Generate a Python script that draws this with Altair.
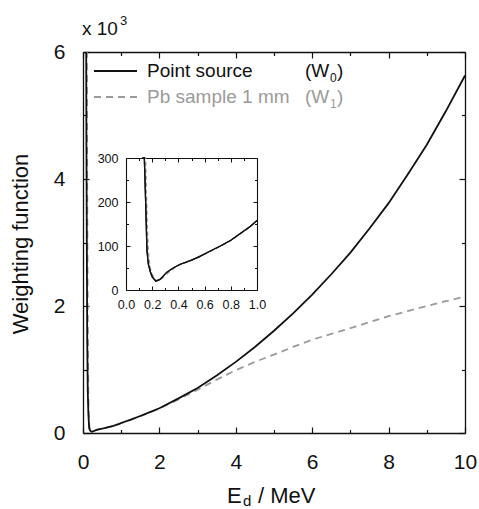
import altair as alt
import pandas as pd

F = "Liberation Sans"

energy = [0.06, 0.09, 0.11, 0.125, 0.14, 0.15, 0.16, 0.17, 0.185, 0.2, 0.228, 0.26,
          0.31, 0.36, 0.41, 0.5, 0.56, 0.64, 0.72, 0.8, 0.87, 0.95, 1.0, 1.25, 1.5,
          1.75, 2.0, 2.5, 3.0, 3.5, 4.0, 4.5, 5.0, 5.5, 6.0, 6.5, 7.0, 7.5, 8.0, 8.5,
          9.0, 9.5, 10.0]
w0_point = [12000, 4500, 1500, 650, 320, 200, 90, 60, 42, 30, 20, 24,
            40, 50, 58, 68, 76, 88, 100, 113, 128, 145, 158, 210, 268,
            328, 390, 545, 710, 905, 1120, 1355, 1610, 1885, 2180, 2500, 2840, 3220, 3620, 4070,
            4540, 5070, 5630]
w1_pb = [20000, 9000, 4000, 1800, 600, 330, 170, 90, 50, 35, 22, 22,
         36, 48, 57, 67, 75, 87, 99, 112, 127, 144, 157, 208, 265,
         323, 385, 530, 680, 840, 990, 1120, 1235, 1355, 1470, 1560, 1650, 1745, 1840, 1920,
         2000, 2075, 2150]

main_x_ticks = list(range(0, 11))
main_x_labels = [0, 2, 4, 6, 8, 10]
main_y_ticks = [0, 1000, 2000, 3000, 4000, 5000, 6000]
main_y_labels = [0, 2000, 4000, 6000]
inset_x_ticks = [0.0, 0.1, 0.2, 0.3, 0.4, 0.5, 0.6, 0.7, 0.8, 0.9, 1.0]
inset_x_labels = [0.0, 0.2, 0.4, 0.6, 0.8, 1.0]
inset_y_ticks = [0, 50, 100, 150, 200, 250, 300]
inset_y_labels = [0, 100, 200, 300]

df = pd.DataFrame({"E": energy, "W0": w0_point, "W1": w1_pb})

W, H = 382, 381
# inset placement inside the plot area (pixels)
IX0, IX1, IY0, IY1 = 43, 174, 238, 106

BLACK = "#111111"
GRAY = "#9a9a9a"


def main_scales():
    return (alt.Scale(domain=[0, 10], nice=False, zero=False),
            alt.Scale(domain=[0, 6000], nice=False, zero=False))


def inset_scales():
    return (alt.Scale(domain=[0, 1], range=[IX0, IX1], nice=False, zero=False, clamp=True),
            alt.Scale(domain=[0, 300], range=[IY0, IY1], nice=False, zero=False, clamp=True))


main_tick_x = {"condition": {"test": "datum.value % 2 === 0", "value": 6}, "value": 3.5}
main_tick_y = {"condition": {"test": "datum.value % 2000 === 0", "value": 6}, "value": 3.5}
ins_tick_x = {"condition": {"test": "abs(datum.value*5 - round(datum.value*5)) < 0.01", "value": 4}, "value": 2.5}
ins_tick_y = {"condition": {"test": "datum.value % 100 === 0", "value": 4}, "value": 2.5}

common = dict(grid=False, title=None, labelFont=F, domainColor=BLACK, tickColor=BLACK,
              labelColor=BLACK, labelOverlap=False, labelFlush=False)

base = alt.Chart(df)

# ---------- main chart ----------
xs, ys = main_scales()
main_black = base.mark_line(color=BLACK, strokeWidth=1.8, clip=True).encode(
    x=alt.X("E:Q", scale=xs, axis=alt.Axis(orient="bottom", values=main_x_labels, ticks=False, tickSize=0,
                                           labelFontSize=21, labelPadding=18, domainWidth=1.3, **common)),
    y=alt.Y("W0:Q", scale=ys, axis=alt.Axis(orient="left", values=main_y_labels, ticks=False, tickSize=0,
                                            labelFontSize=21, labelPadding=18, domainWidth=1.3,
                                            labelExpr="datum.value / 1000", **common)),
    order="E:Q",
)
xs, ys = main_scales()
main_gray = base.mark_line(color=GRAY, strokeWidth=1.8, strokeDash=[7, 5], clip=True).encode(
    x=alt.X("E:Q", scale=xs, axis=alt.Axis(orient="top", offset=-H, values=main_x_ticks, labels=False,
                                           domain=False, tickSize=main_tick_x, tickWidth=1.2, **common)),
    y=alt.Y("W1:Q", scale=ys, axis=alt.Axis(orient="right", offset=-W, values=main_y_ticks, labels=False,
                                            domain=False, tickSize=main_tick_y, tickWidth=1.2, **common)),
    order="E:Q",
)
xs, ys = main_scales()
main_frame = base.mark_line(strokeOpacity=0, clip=True).encode(
    x=alt.X("E:Q", scale=xs, axis=alt.Axis(orient="bottom", offset=-H, values=main_x_ticks, labels=False,
                                           domainWidth=1.3, tickSize=main_tick_x, tickWidth=1.2, **common)),
    y=alt.Y("W0:Q", scale=ys, axis=alt.Axis(orient="left", offset=-W, values=main_y_ticks, labels=False,
                                            domainWidth=1.3, tickSize=main_tick_y, tickWidth=1.2, **common)),
)

# ---------- inset ----------
inset_base = base.transform_filter("datum.E >= 0.12 && datum.E <= 1.0")
xs, ys = inset_scales()
ins_black = inset_base.mark_line(color=BLACK, strokeWidth=1.3).encode(
    x=alt.X("E:Q", scale=xs, axis=alt.Axis(orient="bottom", offset=-(H - IY0), values=inset_x_labels,
                                           ticks=False, tickSize=0, labelFontSize=12.5, labelPadding=8,
                                           format=".1f", domainWidth=1.1, **common)),
    y=alt.Y("W0:Q", scale=ys, axis=alt.Axis(orient="left", offset=-IX0, values=inset_y_labels,
                                            ticks=False, tickSize=0, labelFontSize=12.5, labelPadding=8,
                                            domainWidth=1.1, **common)),
    order="E:Q",
)
xs, ys = inset_scales()
ins_gray = inset_base.mark_line(color=GRAY, strokeWidth=1.3, strokeDash=[4, 3]).encode(
    x=alt.X("E:Q", scale=xs, axis=alt.Axis(orient="top", offset=-IY0, values=inset_x_ticks, labels=False,
                                           domain=False, tickSize=ins_tick_x, **common)),
    y=alt.Y("W1:Q", scale=ys, axis=alt.Axis(orient="right", offset=-(W - IX0), values=inset_y_ticks,
                                            labels=False, domain=False, tickSize=ins_tick_y, **common)),
    order="E:Q",
)
ins_black_top = inset_base.mark_line(color=BLACK, strokeWidth=1.3).encode(
    x=alt.X("E:Q", scale=inset_scales()[0], axis=alt.Axis(orient="bottom", offset=-(H - IY1),
                                                          values=inset_x_ticks, labels=False, domainWidth=1.1,
                                                          tickSize=ins_tick_x, **common)),
    y=alt.Y("W0:Q", scale=inset_scales()[1], axis=alt.Axis(orient="left", offset=-IX1, values=inset_y_ticks,
                                                           labels=False, domainWidth=1.1, tickSize=ins_tick_y,
                                                           **common)),
    order="E:Q",
)

# ---------- legend & annotations ----------
one = alt.Chart(pd.DataFrame({"k": [0]}))
leg_line0 = one.mark_rule(color=BLACK, strokeWidth=1.8).encode(
    x=alt.value(11), x2=alt.value(54), y=alt.value(19))
leg_line1 = one.mark_rule(color=GRAY, strokeWidth=1.8, strokeDash=[7, 5]).encode(
    x=alt.value(11), x2=alt.value(54), y=alt.value(45))


def txt(s, x, y, size, color=BLACK, align="left", baseline="middle", angle=None):
    kw = dict(text=s, font=F, fontSize=size, color=color, align=align, baseline=baseline)
    if angle is not None:
        kw["angle"] = angle
    return one.mark_text(**kw).encode(x=alt.value(x), y=alt.value(y))


texts = [
    txt("Point source", 64, 19, 19),
    txt("(W", 222, 19, 19),
    txt("0", 247, 26, 12),
    txt(")", 254, 19, 19),
    txt("Pb sample 1 mm", 64, 45, 19, GRAY),
    txt("(W", 222, 45, 19, GRAY),
    txt("1", 247, 52, 12, GRAY),
    txt(")", 254, 45, 19, GRAY),
    txt("x 10", -1, -17, 19, baseline="alphabetic"),
    txt("3", 37, -27, 13, baseline="alphabetic"),
    txt("E", 144, 451, 22, baseline="alphabetic"),
    txt("d", 160, 454, 15, baseline="alphabetic"),
    txt("/ MeV", 175, 451, 22, baseline="alphabetic"),
    txt("Weighting function", -62, 192, 22, align="center", angle=270),
]

chart = alt.layer(
    main_frame, main_gray, main_black, ins_gray, ins_black, ins_black_top,
    leg_line0, leg_line1, *texts
).resolve_scale(x="independent", y="independent").properties(
    width=W, height=H,
    autosize=alt.AutoSizeParams(type="none"),
    padding={"left": 83, "top": 52, "right": 14, "bottom": 76},
).configure_view(stroke=None).configure(background="white")

chart.save("out.html", embed_options={"renderer": "svg", "actions": False})
